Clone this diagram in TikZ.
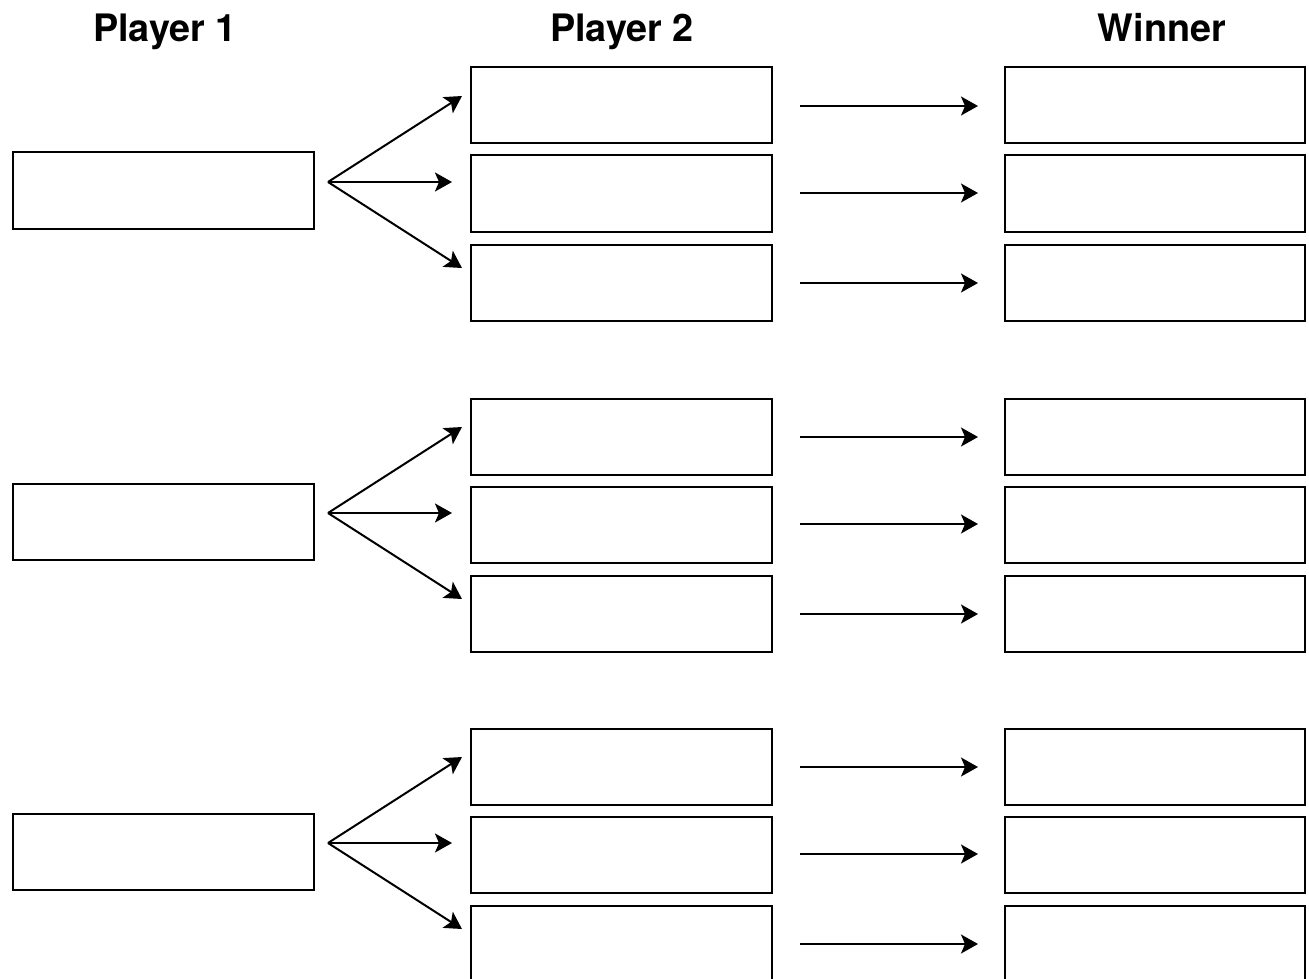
\documentclass[tikz,border=0pt]{standalone}
\usepackage{fontspec}
\setmainfont{TeX Gyre Heros}
\usetikzlibrary{arrows.meta}
\tikzset{
  box/.style={draw=black, line width=2pt, rectangle, inner sep=0pt, outer sep=0pt,
              minimum width=301pt, minimum height=76pt, fill=white},
  flow/.style={draw=black, line width=2pt,
               -{Stealth[length=17pt, width=19pt, inset=4pt]}},
  heading/.style={anchor=base, inner sep=0pt, font=\bfseries\fontsize{37.8}{40}\selectfont}
}
\begin{document}
\begin{tikzpicture}[x=1pt, y=-1pt]
  \clip (0,0) rectangle (1309,979);
  \fill[white] (0,0) rectangle (1309,979);

  % column headings
  \node[heading] (h1) at (165,42) {Player 1};
  \node[heading] (h2) at (622,42) {Player 2};
  \node[heading] (h3) at (1162,42) {Winner};

  % three rounds, each: one first move, three replies, three results
  \foreach \g/\dy in {1/0, 2/331, 3/661} {
    \begin{scope}[yshift=-\dy pt]
      \node[box] (p1-\g) at (163.5,190.5) {};

      \node[box] (p2-\g-a) at (621.5,105.5) {};
      \node[box] (p2-\g-b) at (621.5,193.5) {};
      \node[box] (p2-\g-c) at (621.5,282.5) {};

      \node[box, minimum width=300pt] (w-\g-a) at (1155,105.5) {};
      \node[box, minimum width=300pt] (w-\g-b) at (1155,193.5) {};
      \node[box, minimum width=300pt] (w-\g-c) at (1155,282.5) {};

      % fork from the first move to the replies
      \coordinate (fork-\g) at (328,182);
      \coordinate (ta-\g) at (462,96);
      \coordinate (tb-\g) at (452,182);
      \coordinate (tc-\g) at (462,268);
      \draw[flow] (fork-\g) -- (ta-\g);
      \draw[flow] (fork-\g) -- (tb-\g);
      \draw[flow] (fork-\g) -- (tc-\g);

      % reply to result
      \coordinate (sa-\g) at (800,106);
      \coordinate (ea-\g) at (978,106);
      \coordinate (sb-\g) at (800,193);
      \coordinate (eb-\g) at (978,193);
      \coordinate (sc-\g) at (800,283);
      \coordinate (ec-\g) at (978,283);
      \draw[flow] (sa-\g) -- (ea-\g);
      \draw[flow] (sb-\g) -- (eb-\g);
      \draw[flow] (sc-\g) -- (ec-\g);
    \end{scope}
  }
\end{tikzpicture}
\end{document}
